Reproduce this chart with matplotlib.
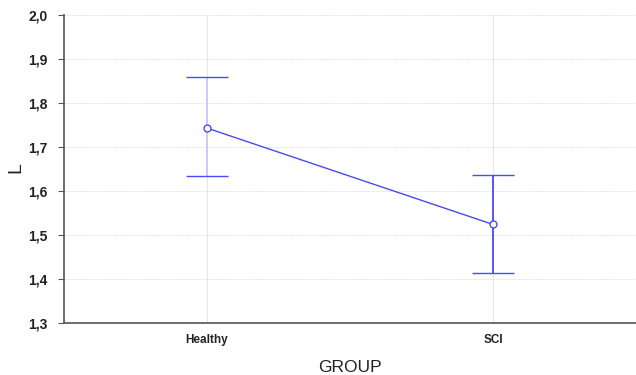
import matplotlib
matplotlib.use("Agg")
import matplotlib.pyplot as plt

plt.rcParams["font.family"] = ["Liberation Sans", "DejaVu Sans"]

groups = ["Healthy", "SCI"]
means = [1.743, 1.524]
upper = [1.858, 1.637]
lower = [1.633, 1.413]
yticks = [1.3, 1.4, 1.5, 1.6, 1.7, 1.8, 1.9, 2.0]

fig = plt.figure(figsize=(6.36, 3.75), dpi=100)
ax = fig.add_axes([0.1006, 0.1387, 0.8994, 0.8213])

x = list(range(len(groups)))
yerr = [[m - l for m, l in zip(means, lower)], [u - m for m, u in zip(means, upper)]]
line, caps, bars = ax.errorbar(x, means, yerr=yerr, color="#4a4af0", lw=1,
                               capsize=15, capthick=1.3, marker="o", ms=5,
                               mfc="white", mec="#4a4af0", mew=1, zorder=3)
bars[0].set_colors(["#c8c8f6", "#4a4af0"])
bars[0].set_linewidth(1.3)

ax.set_xlim(-0.5, 1.5)
ax.set_ylim(1.3, 2.0)
ax.set_yticks(yticks)
ax.set_yticklabels([f"{v:.1f}".replace(".", ",") for v in yticks],
                   fontsize=10, fontweight="bold", color="#222222")
ax.set_xticks(x)
ax.set_xticklabels(groups, fontsize=8.5, fontweight="bold", color="#222222")
ax.tick_params(axis="y", length=4, color="#555555", pad=8)
ax.tick_params(axis="x", length=0, pad=8)
ax.grid(True, axis="y", color="#dddddd", lw=0.7, ls=(0, (1, 1)))
ax.grid(True, axis="x", color="#e6e6e6", lw=0.8)
for s in ["top", "right"]:
    ax.spines[s].set_visible(False)
for s in ["left", "bottom"]:
    ax.spines[s].set_color("#555555")
    ax.spines[s].set_linewidth(1.2)
ax.set_xlabel("GROUP", fontsize=12.5, color="#222222", labelpad=10)
fig.text(16 / 636, 1 - 168 / 375, "L", rotation=90, ha="center", va="center",
         fontsize=14, color="#222222")

fig.savefig("out.png", dpi=100)
